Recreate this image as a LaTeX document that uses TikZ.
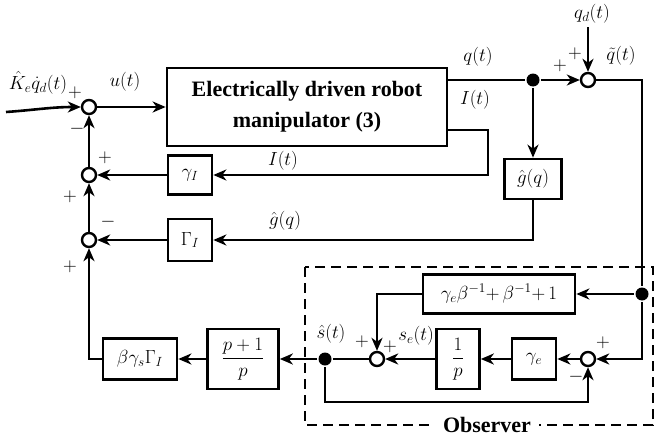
\RequirePackage{fix-cm}
\documentclass[tikz,border=0pt]{standalone}
\usepackage{fontspec}
\setmainfont{Liberation Serif}
\usetikzlibrary{arrows.meta,calc}
\begin{document}
\begin{tikzpicture}[x=1pt,y=-1pt,
  line width=2.6pt,
  >={Stealth[length=13pt,width=11pt,inset=4pt]},
  every node/.style={font=\fontsize{19}{22}\selectfont},
  blk/.style={draw,line width=2.7pt,inner sep=0pt,fill=white},
  sumc/.style={draw,circle,line width=2.4pt,minimum size=14pt,inner sep=0pt},
  dotc/.style={fill,circle,minimum size=13pt,inner sep=0pt},
  lbl/.style={inner sep=0pt}]
\useasboundingbox (0,0) rectangle (656,439);
% blocks
\node[blk,minimum width=280pt,minimum height=78pt,align=center,font=\fontsize{22}{31}\selectfont\bfseries] (plant) at (307,107) {Electrically driven robot\\manipulator (3)};
\node[blk,minimum width=44pt,minimum height=39pt] (gI) at (190,175) {$\gamma_I$};
\node[blk,minimum width=44pt,minimum height=42pt] (Gam) at (190,240) {$\Gamma_I$};
\node[blk,minimum width=57pt,minimum height=40pt] (gb) at (533,179) {$\hat g(q)$};
\node[blk,minimum width=74pt,minimum height=41pt] (bgG) at (140,359) {$\beta\gamma_s\Gamma_I$};
\node[blk,minimum width=71pt,minimum height=60pt] (pp) at (243,359) {$\displaystyle\frac{p+1}{p}$};
\node[blk,minimum width=152pt,minimum height=39pt] (geb) at (499,294) {$\gamma_e\beta^{-1}{+}\,\beta^{-1}{+}\,1$};
\node[blk,minimum width=43pt,minimum height=60pt] (invp) at (458,359) {$\displaystyle\frac{1}{p}$};
\node[blk,minimum width=44pt,minimum height=41pt] (ge) at (534,359) {$\gamma_e$};
% summing junctions
\node[sumc] (s1) at (89,107) {};
\node[sumc] (s2) at (89,175) {};
\node[sumc] (s3) at (89,240) {};
\node[sumc] (sq) at (588,80) {};
\node[sumc] (s5) at (377,359) {};
\node[sumc] (s6) at (588,359) {};
% dots
\node[dotc] (d1) at (533,80) {};
\node[dotc] (d2) at (642,294) {};
\node[dotc] (d3) at (325,359) {};
% coordinates
\coordinate (in0) at (6,112);
\coordinate (qo) at (plant.east |- d1);
\coordinate (qd0) at (588,27);
\coordinate (io) at (447,130);
\coordinate (ic) at (488,130);
\coordinate (rc) at (642,80);
\coordinate (bl) at (325,402);
% connectors
\draw[->] (in0) to[out=4,in=180] (s1.west);
\draw[->] (s1.east) -- (plant.west);
\draw (qo) -- (d1);
\draw[->] (d1) -- (sq.west);
\draw[->] (d1) -- (gb.north);
\draw[->] (qd0) -- (sq.north);
\draw[->] (io) -- (ic) |- (gI.east);
\draw[->] (gI.west) -- (s2.east);
\draw[->] (s2.north) -- (s1.south);
\draw[->] (gb.south) |- (Gam.east);
\draw[->] (Gam.west) -- (s3.east);
\draw[->] (s3.north) -- (s2.south);
\draw[->] (bgG.west) -| (s3.south);
\draw[->] (pp.west) -- (bgG.east);
\draw[->] (d3) -- (pp.east);
\draw (s5) -- (d3);
\draw[->] (invp.west) -- (s5.east);
\draw[->] (ge.west) -- (invp.east);
\draw[->] (s6.west) -- (ge.east);
\draw (sq.east) -- (rc) -- (d2);
\draw[->] (d2) |- (s6.east);
\draw[->] (d2) -- (geb.east);
\draw[->] (geb.west) -| (s5.north);
\draw[->] (d3) -- (bl) -| (s6.south);
% observer box
\draw[line width=2pt,dash pattern=on 10pt off 6pt] (305,267) rectangle (653,425);
\node[fill=white,inner xsep=8pt,inner ysep=3pt,font=\fontsize{22}{22}\selectfont\bfseries] (obs) at (487,425) {Observer};
% labels
\node[lbl] (lk) at (38,83) {$\hat K_e\dot q_d(t)$};
\node[lbl] (lu) at (125,82) {$u(t)$};
\node[lbl] (lq) at (478,57) {$q(t)$};
\node[lbl] (lI1) at (475,100) {$I(t)$};
\node[lbl] (lI2) at (283,161) {$I(t)$};
\node[lbl] (lg) at (285,221) {$\hat g(q)$};
\node[lbl] (lqd) at (592,14) {$q_d(t)$};
\node[lbl] (lqt) at (621,56) {$\tilde q(t)$};
\node[lbl] (ls) at (331,334) {$\hat s(t)$};
\node[lbl] (lse) at (416,336) {$s_e(t)$};
% signs
\node[lbl] (p1) at (75,93) {$+$};
\node[lbl] (m1) at (77,129) {$-$};
\node[lbl] (p2) at (105,158) {$+$};
\node[lbl] (p3) at (70,197) {$+$};
\node[lbl] (m3) at (108,222) {$-$};
\node[lbl] (p4) at (70,267) {$+$};
\node[lbl] (p5) at (560,66) {$+$};
\node[lbl] (p6) at (575,54) {$+$};
\node[lbl] (p7) at (362,342) {$+$};
\node[lbl] (p8) at (390,347) {$+$};
\node[lbl] (p9) at (603,343) {$+$};
\node[lbl] (m9) at (576,377) {$-$};
\end{tikzpicture}
\end{document}
